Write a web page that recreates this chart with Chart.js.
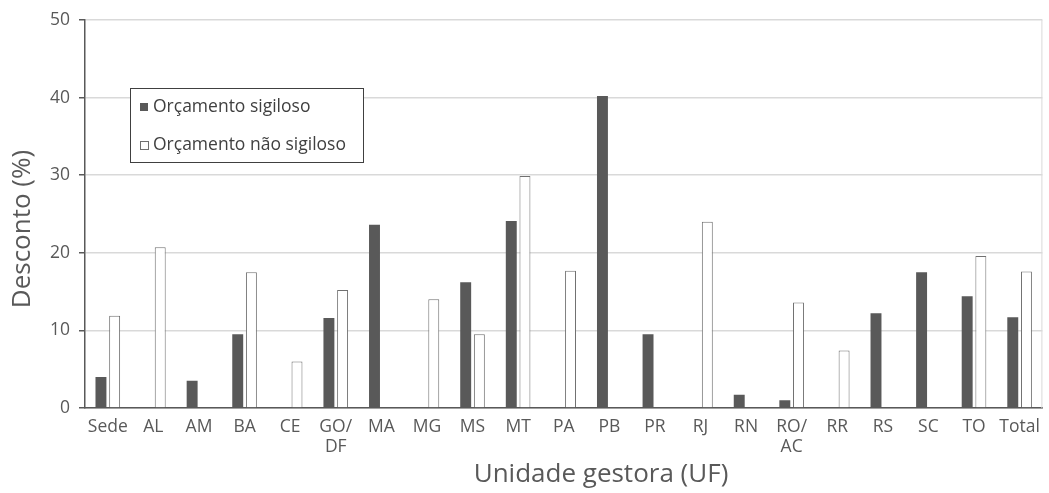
<!DOCTYPE html>
<html>
<head>
<meta charset="utf-8">
<script src="https://cdn.jsdelivr.net/npm/chart.js@4/dist/chart.umd.min.js"></script>
<style>
  html, body { margin: 0; padding: 0; background: #fff; }
  #wrap { width: 1049px; height: 493px; position: relative; }
</style>
</head>
<body>
<div id="wrap"><canvas id="c"></canvas></div>
<script>
const categories = ['Sede', 'AL', 'AM', 'BA', 'CE', ['GO/', 'DF'], 'MA', 'MG', 'MS', 'MT', 'PA', 'PB', 'PR', 'RJ', 'RN', ['RO/', 'AC'], 'RR', 'RS', 'SC', 'TO', 'Total'];
const sigiloso =    [4.0, null, 3.5, 9.5, null, 11.6, 23.6, null, 16.2, 24.1, null, 40.2, 9.5, null, 1.7, 1.0, null, 12.2, 17.5, 14.4, 11.7];
const naoSigiloso = [11.9, 20.7, null, 17.5, 6.0, 15.2, null, 14.0, 9.5, 29.9, 17.7, null, null, 24.0, null, 13.6, 7.4, null, null, 19.6, 17.6];
const yTicks = [0, 10, 20, 30, 40, 50];
const seriesLabels = ['Orçamento sigiloso', 'Orçamento não sigiloso'];
const xTitle = 'Unidade gestora (UF)';
const yTitle = 'Desconto (%)';

const FONT = '"Open Sans", "Noto Sans", sans-serif';
const TXT = '#595959';

const legendInside = {
  id: 'legendInside',
  afterDraw(chart) {
    const ctx = chart.ctx;
    const a = chart.chartArea;
    const x0 = a.left + 45, y0 = a.top + 68, w = 233, h = 74;
    ctx.save();
    ctx.fillStyle = '#ffffff';
    ctx.fillRect(x0, y0, w, h);
    ctx.strokeStyle = '#404040';
    ctx.lineWidth = 1;
    ctx.strokeRect(x0 + 0.5, y0 + 0.5, w, h);
    ctx.font = '17.5px ' + FONT;
    ctx.textBaseline = 'middle';
    chart.data.datasets.forEach((ds, i) => {
      const cy = y0 + 19 + i * 38;
      ctx.fillStyle = ds.backgroundColor;
      ctx.fillRect(x0 + 10, cy - 4, 8, 8);
      if (ds.borderWidth) {
        ctx.strokeStyle = ds.borderColor;
        ctx.strokeRect(x0 + 10.5, cy - 3.5, 8, 8);
      }
      ctx.fillStyle = '#404040';
      ctx.fillText(ds.label, x0 + 23, cy);
    });
    // right edge of plot
    ctx.strokeStyle = '#d9d9d9';
    ctx.beginPath();
    ctx.moveTo(a.right - 0.5, a.top);
    ctx.lineTo(a.right - 0.5, a.bottom);
    ctx.stroke();
    // axis titles
    ctx.fillStyle = TXT;
    ctx.font = '26px ' + FONT;
    ctx.textAlign = 'center';
    ctx.textBaseline = 'middle';
    ctx.fillText(xTitle, a.left + 516, chart.height - 18);
    ctx.translate(23, a.top + 209);
    ctx.rotate(-Math.PI / 2);
    ctx.fillText(yTitle, 0, 0);
    ctx.restore();
  }
};

new Chart(document.getElementById('c'), {
  type: 'bar',
  data: {
    labels: categories,
    datasets: [
      { label: seriesLabels[0], data: sigiloso, backgroundColor: '#595959', borderWidth: 0,
        categoryPercentage: 0.6, barPercentage: 0.8 },
      { label: seriesLabels[1], data: naoSigiloso, backgroundColor: '#ffffff', borderColor: '#707070', borderWidth: 1,
        categoryPercentage: 0.6, barPercentage: 0.8 }
    ]
  },
  options: {
    responsive: true,
    maintainAspectRatio: false,
    animation: false,
    layout: { padding: { left: 0, right: 5, top: 20, bottom: 0 } },
    plugins: { legend: { display: false }, tooltip: { enabled: false } },
    scales: {
      x: {
        grid: { display: false, drawTicks: false },
        border: { display: true, color: '#595959', width: 1.5 },
        ticks: { color: TXT, font: { family: FONT, size: 17.5, lineHeight: 1.15 }, padding: 9, maxRotation: 0, autoSkip: false },
        afterFit(s) { s.height = 85; }
      },
      y: {
        min: 0, max: 50,
        afterBuildTicks(s) { s.ticks = yTicks.map(v => ({ value: v })); },
        grid: { color: '#d9d9d9', tickColor: '#595959', tickLength: 6, lineWidth: 1.5 },
        border: { display: true, color: '#595959', width: 1.5 },
        ticks: { color: TXT, font: { family: FONT, size: 17.5 }, padding: 9 },
        afterFit(s) { s.width = 85; }
      }
    }
  },
  plugins: [legendInside]
});
</script>
</body>
</html>
